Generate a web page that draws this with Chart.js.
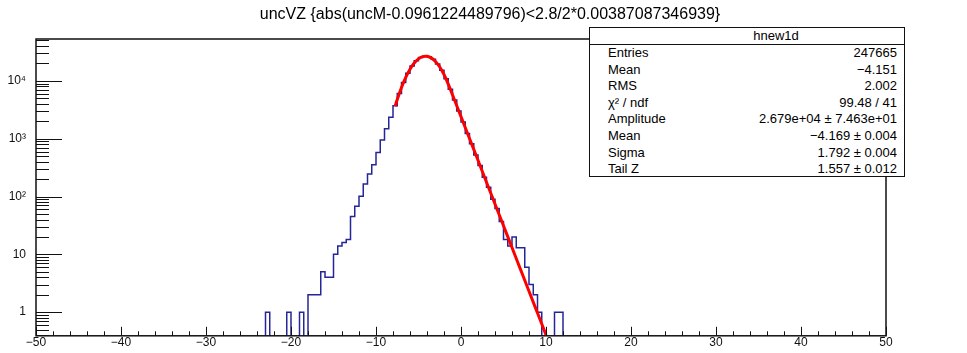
<!DOCTYPE html>
<html>
<head>
<meta charset="utf-8">
<script src="https://cdn.jsdelivr.net/npm/chart.js@4.4.1/dist/chart.umd.min.js"></script>
<style>
  body { margin: 0; background: #fff; }
  #wrap { position: relative; width: 967px; height: 353px; font-family: "Liberation Sans", Arial, sans-serif; color: #000; }
  #title { position: absolute; left: 0; top: 4px; width: 980px; text-align: center; font-size: 16px; line-height: 20px; }
  #stats { position: absolute; left: 589px; top: 27px; width: 314px; height: 148px; border: 1px solid #111; background: #fff; font-size: 13px; }
  #stats .head { height: 16px; line-height: 16px; border-bottom: 1px solid #111; text-align: center; padding-left: 58px; }
  #stats .row { height: 16.6px; line-height: 16.6px; display: flex; justify-content: space-between; padding: 0 7px 0 18px; }
</style>
</head>
<body>
<div id="wrap">
  <canvas id="chart" width="967" height="353"></canvas>
  <div id="title">uncVZ {abs(uncM-0.0961224489796)&lt;2.8/2*0.00387087346939}</div>
  <div id="stats"></div>
</div>
<script>
// histogram hnew1d: 0.5 wide bins starting at -24
const binStart = -24;
const binWidth = 0.5;
const counts = [
  0, 0, 1, 0, 0, 0, 0, 1, 0, 0, 1, 0,
  2, 2, 2, 5, 4, 4, 10, 14, 16, 18, 45, 68,
  101, 165, 245, 355, 580, 950, 1480, 2350, 3700, 6050, 9400, 13500,
  18000, 22200, 25300, 26700, 26100, 23600, 19500, 15200, 10900, 7200, 4650, 3000,
  1950, 1230, 820, 520, 345, 215, 145, 90, 62, 37, 18, 14,
  20, 13, 13, 6, 3, 2, 1, 0, 0, 0, 1, 1, 0
];

// fitted curve (gaussian + exponential tail)
const fitX = [-7.75, -7.5, -7, -6.5, -6, -5.5, -5, -4.5, -4.169, -4, -3.5, -3, -2.5, -2, -1.379,
  -1, 0, 1, 2, 3, 4, 5, 6, 7, 8, 9, 10];
const fitY = [3640, 4760, 7690, 11500, 15900, 20330, 24060, 26340, 26790, 26670, 24990, 21660, 17370, 12880, 7970,
  5740, 2406, 1009, 423, 177, 74.4, 31.2, 13.1, 5.49, 2.30, 0.965, 0.405];

const xMajor = [-50, -40, -30, -20, -10, 0, 10, 20, 30, 40, 50];
const yMajor = [1, 10, 100, 1000, 10000];
const yLabels = ['1', '10', '10\u00B2', '10\u00B3', '10\u2074'];

const statLabels = ['Entries', 'Mean', 'RMS', '\u03C7\u00B2 / ndf', 'Amplitude', 'Mean', 'Sigma', 'Tail Z'];
const statValues = ['247665', '\u22124.151', '2.002', '99.48 / 41', '2.679e+04 \u00B1 7.463e+01',
  '\u22124.169 \u00B1 0.004', '1.792 \u00B1 0.004', '1.557 \u00B1 0.012'];

const yMin = 0.39;
const yMax = 53000;

// stats box
const stats = document.getElementById('stats');
let html = '<div class="head">hnew1d</div>';
statLabels.forEach((l, i) => {
  html += '<div class="row"><span>' + l + '</span><span>' + statValues[i] + '</span></div>';
});
stats.innerHTML = html;

// zero bins are pushed below the frame so the outline drops to the axis
const histPoints = counts.map((c, i) => ({ x: binStart + i * binWidth, y: c > 0 ? c : 0.1 }));
histPoints.push({ x: binStart + counts.length * binWidth, y: 0.1 });
const fitPoints = fitX.map((x, i) => ({ x: x, y: fitY[i] }));

// ROOT style frame with inward ticks
const rootAxes = {
  id: 'rootAxes',
  afterDraw(chart) {
    const { ctx, chartArea: a, scales: { x, y } } = chart;
    ctx.save();
    ctx.strokeStyle = '#111';
    ctx.lineWidth = 1;
    ctx.beginPath();
    for (let v = -50; v <= 50; v += 2) {
      const px = Math.round(x.getPixelForValue(v)) + 0.5;
      const len = v % 10 === 0 ? 9 : 4.5;
      ctx.moveTo(px, a.bottom);
      ctx.lineTo(px, a.bottom - len);
    }
    for (let d = 0.1; d < yMax; d *= 10) {
      for (let m = 1; m <= 9; m++) {
        const v = d * m;
        if (v < yMin || v > yMax) continue;
        const py = Math.round(y.getPixelForValue(v)) + 0.5;
        const len = m === 1 ? 26 : 13;
        ctx.moveTo(a.left, py);
        ctx.lineTo(a.left + len, py);
      }
    }
    ctx.stroke();
    ctx.lineWidth = 1.5;
    ctx.strokeRect(a.left, a.top, a.right - a.left, a.bottom - a.top);
    ctx.restore();
  }
};

new Chart(document.getElementById('chart'), {
  type: 'line',
  data: {
    datasets: [
      {
        label: 'hnew1d',
        data: histPoints,
        stepped: 'before',
        borderColor: '#25259a',
        borderWidth: 1.5,
        pointRadius: 0,
        fill: false,
        order: 2
      },
      {
        label: 'fit',
        data: fitPoints,
        borderColor: '#ff0000',
        borderWidth: 3,
        pointRadius: 0,
        cubicInterpolationMode: 'monotone',
        fill: false,
        order: 1
      }
    ]
  },
  options: {
    responsive: false,
    animation: false,
    devicePixelRatio: 1,
    layout: { padding: { left: 0, right: 81, top: 39, bottom: 0 } },
    plugins: { legend: { display: false }, title: { display: false }, tooltip: { enabled: false } },
    scales: {
      x: {
        type: 'linear',
        min: -50,
        max: 50,
        grid: { display: false, drawTicks: false },
        border: { display: false },
        afterBuildTicks: (s) => { s.ticks = xMajor.map(v => ({ value: v })); },
        afterFit: (s) => { s.height = 13; },
        ticks: {
          padding: 0,
          maxRotation: 0,
          autoSkip: false,
          color: '#111',
          font: { family: 'Liberation Sans, Arial, sans-serif', size: 12 },
          callback: (v) => (v < 0 ? '\u2212' + Math.abs(v) : String(v))
        }
      },
      y: {
        type: 'logarithmic',
        min: yMin,
        max: yMax,
        grid: { display: false, drawTicks: false },
        border: { display: false },
        afterBuildTicks: (s) => { s.ticks = yMajor.map(v => ({ value: v })); },
        afterFit: (s) => { s.width = 36; },
        ticks: {
          padding: 10,
          autoSkip: false,
          color: '#111',
          font: { family: 'Liberation Sans, Arial, sans-serif', size: 12 },
          callback: (v, i) => yLabels[i]
        }
      }
    }
  },
  plugins: [rootAxes]
});
</script>
</body>
</html>
